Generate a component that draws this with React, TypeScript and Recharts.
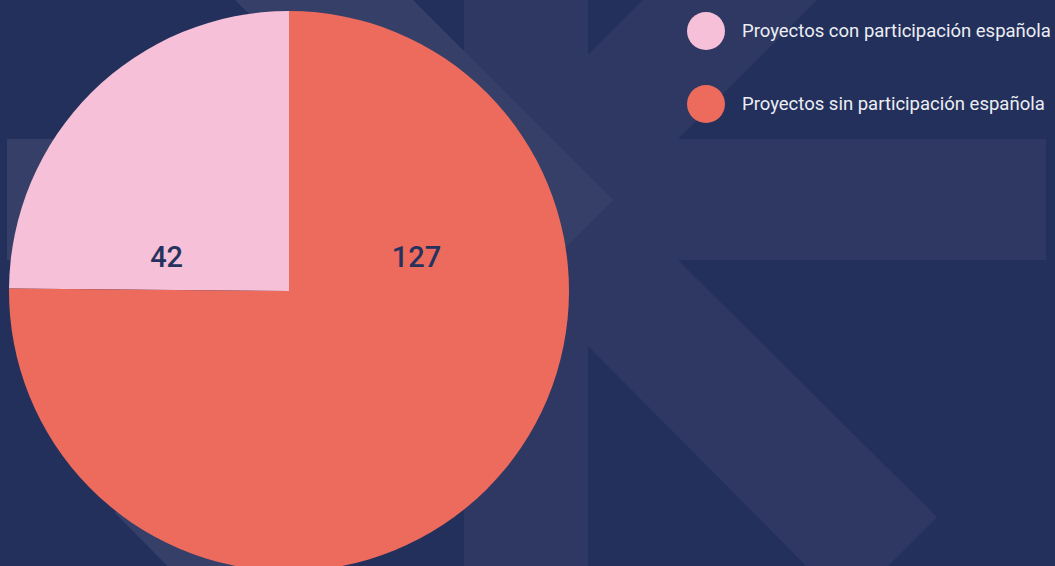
import React from "react";
import { Cell, Legend, Pie, PieChart } from "recharts";

const categories = [
  "Proyectos con participación española",
  "Proyectos sin participación española",
];
const values = [42, 127];
const colors = ["#f6c0d8", "#ed6b5d"];

const data = categories.map((name, i) => ({ name, value: values[i] }));

const BG = "#23305b";
const K_COLOR = "#2e3862";
const K_LIGHT = "#353f68";

function Backdrop() {
  // big "K" mark behind the chart
  return (
    <svg
      width={1055}
      height={566}
      style={{ position: "absolute", left: 0, top: 0 }}
    >
      <rect x={0} y={0} width={1055} height={566} fill={BG} />
      <rect x={464} y={0} width={124} height={566} fill={K_COLOR} />
      <rect x={588} y={139} width={458} height={121} fill={K_COLOR} />
      <polygon points="588,55 643,0 817,0 588,229" fill={K_COLOR} />
      <polygon points="588,170 677,259 937,517 886,568 808,568 588,346" fill={K_COLOR} />
      <rect x={7} y={139} width={430} height={121} fill={K_LIGHT} />
      <polygon
        points="235,0 413,0 613,200 207,606 115,513 435,200 235,0"
        fill={K_LIGHT}
      />
    </svg>
  );
}

function renderLabel(props: any) {
  const { cx, cy, outerRadius, midAngle, value } = props;
  const side = Math.cos((-midAngle * Math.PI) / 180) < 0 ? -0.437 : 0.455;
  return (
    <text
      x={cx + side * outerRadius}
      y={cy - 0.12 * outerRadius}
      fill="#26325e"
      textAnchor="middle"
      dominantBaseline="central"
      style={{ fontFamily: "Roboto", fontSize: 29, fontWeight: 500 }}
    >
      {value}
    </text>
  );
}

function LegendContent() {
  return (
    <div style={{ display: "flex", flexDirection: "column", gap: 35 }}>
      {data.map((d, i) => (
        <div key={d.name} style={{ display: "flex", alignItems: "center" }}>
          <div
            style={{
              width: 38,
              height: 38,
              borderRadius: "50%",
              background: colors[i],
            }}
          />
          <span
            style={{
              marginLeft: 17,
              color: "#eceef4",
              fontFamily: "Roboto",
              fontSize: 18.5,
              whiteSpace: "nowrap",
            }}
          >
            {d.name}
          </span>
        </div>
      ))}
    </div>
  );
}

export default function App() {
  return (
    <div
      style={{
        position: "relative",
        width: 1055,
        height: 566,
        overflow: "hidden",
        background: BG,
      }}
    >
      <style>{`body { margin: 0; }`}</style>
      <Backdrop />
      <div style={{ position: "absolute", left: 0, top: 0 }}>
        <PieChart
          width={1055}
          height={600}
          margin={{ top: 0, right: 0, bottom: 0, left: 0 }}
        >
          <Pie
            data={data}
            dataKey="value"
            nameKey="name"
            cx={289}
            cy={291}
            outerRadius={280}
            startAngle={90}
            endAngle={450}
            stroke="none"
            label={renderLabel}
            labelLine={false}
            isAnimationActive={false}
          >
            {data.map((d, i) => (
              <Cell key={d.name} fill={colors[i]} />
            ))}
          </Pie>
          <Legend
            layout="vertical"
            content={<LegendContent />}
            wrapperStyle={{ position: "absolute", left: 687, top: 12, width: 370 }}
          />
        </PieChart>
      </div>
    </div>
  );
}
